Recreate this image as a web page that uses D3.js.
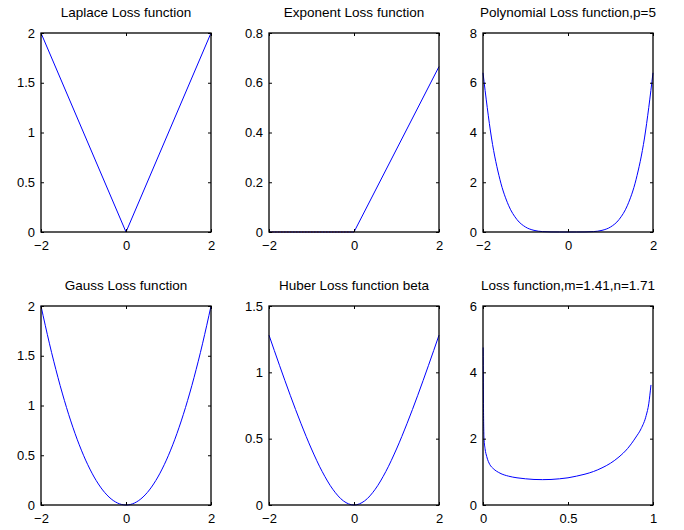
<!DOCTYPE html>
<html>
<head>
<meta charset="utf-8">
<script src="https://cdn.jsdelivr.net/npm/d3@7"></script>
<style>
  html, body { margin: 0; padding: 0; background: #fff; }
  svg { display: block; font-family: "Liberation Sans", Arial, Helvetica, sans-serif; }
</style>
</head>
<body>
<svg id="chart" width="684" height="530"></svg>
<script>
// ---------- data ----------
const titles = [
  "Laplace Loss function",
  "Exponent Loss function",
  "Polynomial Loss function,p=5",
  "Gauss Loss function",
  "Huber Loss function beta",
  "Loss function,m=1.41,n=1.71"
];

const xTicksSym = [-2, 0, 2];
const xTicksUnit = [0, 0.5, 1];

const yTicksLaplace = [0, 0.5, 1, 1.5, 2];
const yTicksExponent = [0, 0.2, 0.4, 0.6, 0.8];
const yTicksPoly = [0, 2, 4, 6, 8];
const yTicksGauss = [0, 0.5, 1, 1.5, 2];
const yTicksHuber = [0, 0.5, 1, 1.5];
const yTicksLast = [0, 2, 4, 6];

const laplace = [[-2, 2], [0, 0], [2, 2]];

const exponent = [[-2, 0], [0, 0], [2, 0.665]];
const exponentZero = [[-2, 0], [0, 0]];

const polynomial = [
  [-2, 6.4], [-1.8, 3.78], [-1.6, 2.1], [-1.4, 1.076], [-1.2, 0.498], [-1, 0.2],
  [-0.8, 0.066], [-0.6, 0.016], [-0.4, 0.002], [-0.2, 0.0001], [0, 0],
  [0.2, 0.0001], [0.4, 0.002], [0.6, 0.016], [0.8, 0.066], [1, 0.2],
  [1.2, 0.498], [1.4, 1.076], [1.6, 2.1], [1.8, 3.78], [2, 6.4]
];

const gauss = [
  [-2, 2], [-1.8, 1.62], [-1.6, 1.28], [-1.4, 0.98], [-1.2, 0.72], [-1, 0.5],
  [-0.8, 0.32], [-0.6, 0.18], [-0.4, 0.08], [-0.2, 0.02], [0, 0],
  [0.2, 0.02], [0.4, 0.08], [0.6, 0.18], [0.8, 0.32], [1, 0.5],
  [1.2, 0.72], [1.4, 0.98], [1.6, 1.28], [1.8, 1.62], [2, 2]
];

const huber = [
  [-2, 1.28], [-1.75, 1.05], [-1.5, 0.827], [-1.25, 0.616], [-1, 0.422],
  [-0.75, 0.253], [-0.5, 0.119], [-0.25, 0.031], [0, 0],
  [0.25, 0.031], [0.5, 0.119], [0.75, 0.253], [1, 0.422],
  [1.25, 0.616], [1.5, 0.827], [1.75, 1.05], [2, 1.28]
];

const lastCurve = [
  [0.001, 4.75], [0.003, 2.9], [0.006, 2.0], [0.012, 1.7], [0.022, 1.46],
  [0.04, 1.22], [0.06, 1.1], [0.1, 0.96], [0.15, 0.87], [0.2, 0.82],
  [0.25, 0.79], [0.3, 0.77], [0.35, 0.765], [0.4, 0.77], [0.45, 0.79],
  [0.5, 0.82], [0.55, 0.87], [0.6, 0.93], [0.65, 1.01], [0.7, 1.12],
  [0.75, 1.26], [0.8, 1.45], [0.85, 1.7], [0.9, 2.05], [0.93, 2.3],
  [0.96, 2.7], [0.975, 3.05], [0.988, 3.62]
];

// ---------- layout ----------
const colLeft = [41, 269, 483];
const rowTop = [33, 306];
const plotW = 170, plotH = 199;

const panels = [
  { title: titles[0], xd: [-2, 2], xt: xTicksSym, yd: [0, 2], yt: yTicksLaplace, series: [{ d: laplace, curve: d3.curveLinear }] },
  { title: titles[1], xd: [-2, 2], xt: xTicksSym, yd: [0, 0.8], yt: yTicksExponent, series: [{ d: exponent, curve: d3.curveLinear }, { d: exponentZero, curve: d3.curveLinear, dotted: true }] },
  { title: titles[2], xd: [-2, 2], xt: xTicksSym, yd: [0, 8], yt: yTicksPoly, series: [{ d: polynomial, curve: d3.curveMonotoneX }] },
  { title: titles[3], xd: [-2, 2], xt: xTicksSym, yd: [0, 2], yt: yTicksGauss, series: [{ d: gauss, curve: d3.curveMonotoneX }] },
  { title: titles[4], xd: [-2, 2], xt: xTicksSym, yd: [0, 1.5], yt: yTicksHuber, series: [{ d: huber, curve: d3.curveMonotoneX }] },
  { title: titles[5], xd: [0, 1], xt: xTicksUnit, yd: [0, 6], yt: yTicksLast, series: [{ d: lastCurve, curve: d3.curveMonotoneX }] }
];

const fmt = d => String(d).replace("-", "\u2212");
const svg = d3.select("#chart");

panels.forEach((p, i) => {
  const left = colLeft[i % 3], top = rowTop[Math.floor(i / 3)];
  const x = d3.scaleLinear().domain(p.xd).range([left, left + plotW]);
  const y = d3.scaleLinear().domain(p.yd).range([top + plotH, top]);
  const g = svg.append("g");

  // series
  p.series.forEach(s => {
    const line = d3.line().x(d => x(d[0])).y(d => y(d[1])).curve(s.curve);
    g.append("path")
      .attr("d", line(s.d))
      .attr("fill", "none")
      .attr("stroke", s.dotted ? "#b5483c" : "#0000ff")
      .attr("stroke-width", 1)
      .attr("stroke-dasharray", s.dotted ? "1.5,1.5" : null);
  });

  // axes
  const styleAxis = (sel) => {
    sel.select(".domain").remove();
    sel.selectAll("line").attr("stroke", "#000").attr("stroke-width", 1);
    sel.selectAll("text").attr("fill", "#000").style("font-size", "13px")
      .style("font-family", "'Liberation Sans', Arial, Helvetica, sans-serif");
  };
  g.append("g").attr("transform", `translate(0,${top + plotH})`)
    .call(d3.axisBottom(x).tickValues(p.xt).tickFormat(fmt).tickSizeInner(-3).tickSizeOuter(0).tickPadding(9))
    .call(styleAxis);
  g.append("g").attr("transform", `translate(0,${top})`)
    .call(d3.axisTop(x).tickValues(p.xt).tickFormat("").tickSizeInner(-3).tickSizeOuter(0))
    .call(styleAxis);
  g.append("g").attr("transform", `translate(${left},0)`)
    .call(d3.axisLeft(y).tickValues(p.yt).tickFormat(fmt).tickSizeInner(-3).tickSizeOuter(0).tickPadding(6))
    .call(styleAxis);
  g.append("g").attr("transform", `translate(${left + plotW},0)`)
    .call(d3.axisRight(y).tickValues(p.yt).tickFormat("").tickSizeInner(-3).tickSizeOuter(0))
    .call(styleAxis);

  // frame
  g.append("rect")
    .attr("x", left).attr("y", top)
    .attr("width", plotW).attr("height", plotH)
    .attr("fill", "none").attr("stroke", "#000").attr("stroke-width", 1.3);

  // title
  g.append("text")
    .attr("x", left + plotW / 2).attr("y", top - 16)
    .attr("text-anchor", "middle")
    .style("font-size", "13.5px")
    .text(p.title);
});
</script>
</body>
</html>
